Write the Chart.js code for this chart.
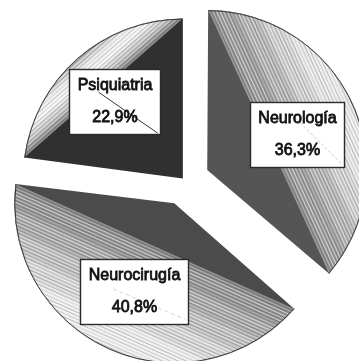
<!DOCTYPE html>
<html>
<head>
<meta charset="utf-8">
<script src="https://cdn.jsdelivr.net/npm/chart.js@4.4.1/dist/chart.umd.min.js"></script>
<style>
  html, body { margin: 0; padding: 0; background: #ffffff; }
  #wrap { width: 359px; height: 361px; }
</style>
</head>
<body>
<div id="wrap"><canvas id="c" width="359" height="361"></canvas></div>
<script>
// Distribution of cases by specialty (percent)
const categories = ['Neurología', 'Neurocirugía', 'Psiquiatria'];
const shares = [36.3, 40.8, 22.9];

// ---- styling ----
const SLICE_RADIUS = 160;
const explode = [100, 100, 10];               // Chart.js arc offset (translation = offset / 4)
const faceColors = ['#555555', '#4b4b4b', '#303030'];
const LABEL_FONT = '16px "Liberation Sans", Arial, sans-serif';
const labelNudge = [[1, 5], [0, -1], [-4, -4]]; // small pixel shifts of the label boxes

// gradient stops across each textured segment, from the chord out to the rim
const segmentTones = [
  [[0, '#8e8e8e'], [0.3, '#ababab'], [0.6, '#d6d6d6'], [0.85, '#efefef'], [1, '#dcdcdc']],
  [[0, '#858585'], [0.3, '#a9a9a9'], [0.6, '#d2d2d2'], [0.85, '#f2f2f2'], [1, '#e2e2e2']],
  [[0, '#7c7c7c'], [0.25, '#bdbdbd'], [0.5, '#f8f8f8'], [0.75, '#e2e2e2'], [1, '#b4b4b4']]
];
const weave = [0.9, 0.3, 0.6, 0.15, 0.75, 0.4, 0.2, 0.65, 0.5, 0.1, 0.85, 0.35];

// faint guide line crossing each label box (fractions of box size)
const guideStyles = [
  { from: [0.45, 0.2], to: [0.98, 0.96], color: 'rgba(150,150,150,0.55)', dash: [3, 2] },
  { from: [0.3, 0.45], to: [0.97, 0.92], color: 'rgba(170,170,170,0.5)', dash: [4, 3] },
  { from: [0.32, 0.35], to: [0.97, 0.98], color: '#3a3a3a', dash: [] }
];

function formatShare(v) {
  return v.toFixed(1).replace('.', ',') + '%';
}

// Chart.js enlarges exploded arcs slightly; undo it so every slice has the same radius.
function arcGrowth(arc) {
  const shift = (arc.options.offset || 0) / 4;
  const circ = arc.endAngle - arc.startAngle;
  return shift * (1 - Math.sin(Math.min(Math.PI, circ)));
}

const radiusFix = {
  id: 'radiusFix',
  afterDatasetsUpdate(chart) {
    chart.getDatasetMeta(0).data.forEach(arc => {
      arc.outerRadius = SLICE_RADIUS - arcGrowth(arc);
    });
  }
};

function sliceGeometry(arc) {
  const shift = (arc.options.offset || 0) / 4;
  const mid = (arc.startAngle + arc.endAngle) / 2;
  const trim = (arcGrowth(arc) / Math.PI) / SLICE_RADIUS / 2;
  return {
    cx: arc.x + Math.cos(mid) * shift,
    cy: arc.y + Math.sin(mid) * shift,
    r: SLICE_RADIUS,
    start: arc.startAngle + trim,
    end: arc.endAngle - trim,
    mid
  };
}

// Hatched circular segment between each slice's chord and its rim.
const segmentTexture = {
  id: 'segmentTexture',
  afterDatasetsDraw(chart) {
    const ctx = chart.ctx;
    chart.getDatasetMeta(0).data.forEach((arc, i) => {
      const g = sliceGeometry(arc);
      const { cx, cy, r, start, end, mid } = g;
      const half = (end - start) / 2;
      const d0 = r * Math.cos(half);
      const ux = Math.cos(mid), uy = Math.sin(mid);
      const vx = -uy, vy = ux;

      ctx.save();
      ctx.beginPath();
      ctx.moveTo(cx + r * Math.cos(start), cy + r * Math.sin(start));
      ctx.arc(cx, cy, r, start, end);
      ctx.closePath();
      ctx.clip();

      const grad = ctx.createLinearGradient(cx + ux * d0, cy + uy * d0, cx + ux * r, cy + uy * r);
      segmentTones[i].forEach(([t, c]) => grad.addColorStop(t, c));
      ctx.fillStyle = grad;
      ctx.fillRect(0, 0, chart.width, chart.height);

      const span = r * Math.sin(half) + 6;
      let k = 0;
      for (let d = d0 - 1; d <= r + 1; d += 1.6) {
        const px = cx + ux * d, py = cy + uy * d;
        ctx.beginPath();
        ctx.moveTo(px - vx * span, py - vy * span);
        ctx.lineTo(px + vx * span, py + vy * span);
        if (k % 2 === 0) {
          ctx.strokeStyle = 'rgba(45,45,45,' + (weave[k % weave.length] * 0.45).toFixed(3) + ')';
          ctx.lineWidth = 0.7;
        } else {
          ctx.strokeStyle = 'rgba(255,255,255,' + (weave[(k + 5) % weave.length] * 0.8).toFixed(3) + ')';
          ctx.lineWidth = 0.9;
        }
        ctx.stroke();
        k++;
      }
      ctx.restore();

      // rim outline
      ctx.save();
      ctx.beginPath();
      ctx.arc(cx, cy, r - 0.5, start, end);
      ctx.strokeStyle = '#3a3a3a';
      ctx.lineWidth = 1;
      ctx.stroke();
      ctx.restore();
    });
  }
};

// Boxed labels: category name and share.
const labelBoxes = {
  id: 'labelBoxes',
  afterDraw(chart) {
    const ctx = chart.ctx;
    ctx.save();
    ctx.font = LABEL_FONT;
    chart.getDatasetMeta(0).data.forEach((arc, i) => {
      const g = sliceGeometry(arc);
      const dist = g.r * 0.61;
      const bx = g.cx + Math.cos(g.mid) * dist + labelNudge[i][0];
      const by = g.cy + Math.sin(g.mid) * dist + labelNudge[i][1];
      const name = chart.data.labels[i];
      const value = formatShare(chart.data.datasets[0].data[i]);
      const w = Math.round(Math.max(ctx.measureText(name).width, ctx.measureText(value).width) + 16);
      const h = 65;
      const x0 = Math.round(bx - w / 2) + 0.5;
      const y0 = Math.round(by - h / 2) + 0.5;

      ctx.fillStyle = '#ffffff';
      ctx.fillRect(x0, y0, w, h);

      const gs = guideStyles[i];
      ctx.beginPath();
      ctx.setLineDash(gs.dash);
      ctx.moveTo(x0 + gs.from[0] * w, y0 + gs.from[1] * h);
      ctx.lineTo(x0 + gs.to[0] * w, y0 + gs.to[1] * h);
      ctx.strokeStyle = gs.color;
      ctx.lineWidth = 1;
      ctx.stroke();
      ctx.setLineDash([]);

      ctx.strokeStyle = '#2a2a2a';
      ctx.lineWidth = 1.4;
      ctx.strokeRect(x0, y0, w, h);

      ctx.fillStyle = '#111111';
      ctx.strokeStyle = '#111111';
      ctx.lineWidth = 0.8;
      ctx.textAlign = 'center';
      ctx.textBaseline = 'middle';
      const tx = x0 + w / 2;
      ctx.fillText(name, tx, y0 + 16);
      ctx.strokeText(name, tx, y0 + 16);
      ctx.fillText(value, tx, y0 + 48);
      ctx.strokeText(value, tx, y0 + 48);
    });
    ctx.restore();
  }
};

const chart = new Chart(document.getElementById('c').getContext('2d'), {
  type: 'pie',
  data: {
    labels: categories,
    datasets: [{
      data: shares,
      backgroundColor: faceColors,
      borderWidth: 0,
      offset: explode
    }]
  },
  options: {
    responsive: false,
    animation: false,
    events: [],
    radius: SLICE_RADIUS,
    rotation: 0,
    layout: { padding: { left: 10 } },
    plugins: {
      legend: { display: false },
      tooltip: { enabled: false }
    }
  },
  plugins: [radiusFix, segmentTexture, labelBoxes]
});
</script>
</body>
</html>
